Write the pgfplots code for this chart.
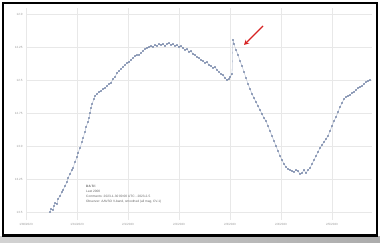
\documentclass[border=0pt]{standalone}
\usepackage{pgfplots}
\pgfplotsset{compat=1.18}
\usepackage{pgfplotstable}
\usepackage{fontspec}
\setmainfont{Liberation Sans}
\usetikzlibrary{arrows.meta}
\definecolor{pt}{RGB}{95,115,155}
\definecolor{gridc}{RGB}{232,232,232}
\definecolor{lab}{RGB}{150,150,150}
\definecolor{arr}{RGB}{215,35,35}
\pgfplotstableread{
x y
50 212
51 209
53 210
54 206
55 203
57 204
58 199
60 196
62 192
63 190
65 186
67 182
68 178
70 174
72 170
73 168
75 162
77 157
78 153
80 148
82 142
83 138
85 132
86 127
88 122
89 118
90 113
91 108
92 104
94 99
95 96
97 94
99 92
101 91
103 89
105 88
107 86
109 84
111 83
113 79
115 77
117 73
119 71
121 69
123 67
125 65
127 63
129 62
131 60
133 58
135 56
137 55
139 55
141 53
143 51
145 49
147 48
149 47
151 46
153 47
155 45
157 46
159 44
161 45
163 44
165 46
167 44
169 43
171 45
173 44
175 46
177 45
179 47
181 46
183 48
185 50
187 49
189 52
191 51
193 54
195 55
197 57
199 58
201 60
203 61
205 63
207 62
209 65
211 66
213 68
215 67
217 70
219 72
221 74
223 75
225 78
227 80
229 79
230 77
232 74
233 40
234 44
236 50
238 55
240 61
242 66
244 72
246 78
248 84
250 89
252 94
254 98
256 102
258 106
260 110
262 114
264 118
266 121
268 126
270 131
272 136
274 141
276 146
278 151
280 156
282 160
284 164
286 167
288 169
290 170
292 171
294 172
296 170
298 171
300 174
302 173
304 170
306 173
308 170
310 168
312 164
314 160
316 156
318 152
320 148
322 145
324 142
326 139
328 136
330 131
332 126
334 121
336 117
338 112
340 107
342 103
344 99
346 97
348 96
350 95
352 93
354 92
356 90
358 88
360 87
362 86
364 84
366 82
368 81
370 80
}\lc
\begin{document}
\begin{tikzpicture}[x=1pt,y=1pt]
\useasboundingbox (0,0) rectangle (380,243);
\fill[white] (0,0) rectangle (380,243);
\shade[left color=gray!35, right color=gray!65] (0,0) rectangle (380,6);
\begin{axis}[
  at={(26pt,23pt)}, anchor=south west,
  scale only axis, width=346pt, height=212pt,
  xmin=26, xmax=372, ymin=-220, ymax=-8,
  axis line style={draw=none},
  grid=major, major grid style={gridc, line width=0.5pt},
  tick style={draw=none},
  xtick={26,77,128,179,230,281,332},
  xticklabels={1/30/2023,1/31/2023,2/1/2023,2/2/2023,2/3/2023,2/4/2023,2/5/2023},
  ytick={-212,-179,-146,-113,-80,-47,-14},
  yticklabels={13.5,13.25,13.0,12.75,12.5,12.25,12.0},
  ticklabel style={font=\fontsize{3}{3.5}\selectfont, text=lab},
  /pgf/number format/assume math mode=true,
  clip=false,
]
\addplot[pt!60, line width=0.3pt, mark=*, mark size=0.55pt, mark options={draw=pt, fill=pt}] table[x=x,y expr=-\thisrow{y}] {\lc};
\end{axis}
\node[anchor=north west, align=left, inner sep=0pt, font=\fontsize{3.2}{5}\selectfont, text=gray!80!black] at (86,58) {\textbf{DA Tri}\\Last 2000\\Comments: 2023-1-30 00:00 UTC - 2023-2-5\\Observer: AAVSO V-band, smoothed (all mag, CV-1)};
\draw[arr, line width=1.3pt, -{Stealth[length=5pt,width=5pt]}] (263,217) -- (244,198);
\draw[black, line width=2.5pt] (3,7.5) rectangle (377,240);
\end{tikzpicture}
\end{document}
